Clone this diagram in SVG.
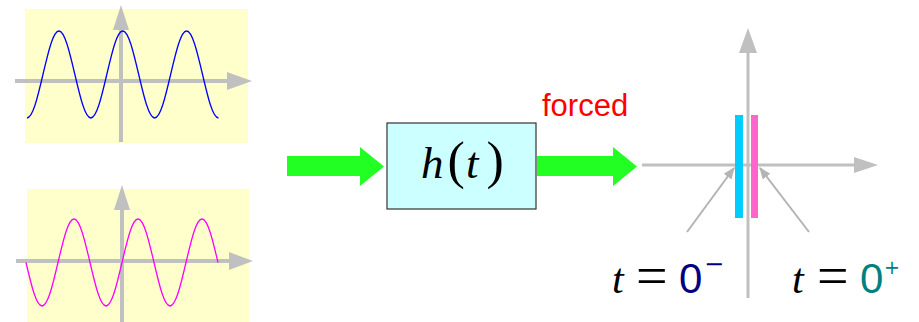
<svg xmlns="http://www.w3.org/2000/svg" width="919" height="322" viewBox="0 0 919 322">
<defs>
<style>
.panel{fill:#ffffcc}
.axis{stroke:#c0c0c0;stroke-width:4;fill:none}
.axis3{stroke:#c0c0c0;stroke-width:3;fill:none}
.head{fill:#c0c0c0}
.wave{fill:none;stroke-width:1.3}
.green{fill:#22ff22}
.math{font-family:"Liberation Serif","DejaVu Serif",serif;font-style:italic}
.up{font-family:"Liberation Serif","DejaVu Serif",serif;font-style:normal}
.num{font-family:"Liberation Sans","DejaVu Sans",sans-serif;font-style:normal}
.sup{font-family:"DejaVu Sans","Liberation Sans",sans-serif}
.ptr{stroke:#b4b4b4;stroke-width:2;fill:none}
</style>
<marker id="ah" viewBox="0 0 10 10" refX="9" refY="5" markerWidth="6" markerHeight="6" orient="auto" markerUnits="strokeWidth">
<path d="M0,1 L10,5 L0,9 Z" fill="#b4b4b4"/>
</marker>
</defs>
<rect width="919" height="322" fill="#ffffff"/>

<g id="input-cos">
<rect class="panel" x="25" y="9" width="223" height="134"/>
<line class="axis" x1="121" y1="28" x2="121" y2="142"/>
<polygon class="head" points="113,30 121,5 129,30"/>
<line class="axis" x1="15" y1="81" x2="229" y2="81"/>
<polygon class="head" points="227,72 252,81 227,90"/>
<path class="wave" stroke="#0000ff" d="M27,118 C32.74,118 37.62,97.34 42.96,74.5 C48.30,51.66 53.18,31 58.92,31 C64.66,31 69.54,51.66 74.88,74.5 C80.22,97.34 85.10,118 90.83,118 C96.57,118 101.45,97.34 106.79,74.5 C112.13,51.66 117.01,31 122.75,31 C128.49,31 133.37,51.66 138.71,74.5 C144.05,97.34 148.93,118 154.66,118 C160.40,118 165.28,97.34 170.62,74.5 C175.96,51.66 180.84,31 186.58,31 C192.32,31 197.20,51.66 202.54,74.5 C207.88,97.34 212.76,118 218.5,118"/>
</g>

<g id="input-sin">
<rect class="panel" x="27" y="189" width="222" height="133"/>
<line class="axis" x1="122" y1="208" x2="122" y2="322"/>
<polygon class="head" points="114,210 122,185 130,210"/>
<line class="axis" x1="16" y1="261" x2="231" y2="261"/>
<polygon class="head" points="229,252 253,261 229,270"/>
<path class="wave" stroke="#ff00ff" d="M26,262.5 C31.35,285.34 36.24,306 42,306 C47.76,306 52.65,285.34 58,262.5 C63.35,239.66 68.24,219 74,219 C79.76,219 84.65,239.66 90,262.5 C95.35,285.34 100.24,306 106,306 C111.76,306 116.65,285.34 122,262.5 C127.35,239.66 132.24,219 138,219 C143.76,219 148.65,239.66 154,262.5 C159.35,285.34 164.24,306 170,306 C175.76,306 180.65,285.34 186,262.5 C191.35,239.66 196.24,219 202,219 C207.76,219 212.65,239.66 218,262.5"/>
</g>

<g id="system">
<rect x="387" y="123" width="149" height="86" fill="#ccffff" stroke="#333333" stroke-width="1.2"/>
<text y="178" font-size="45"><tspan class="math" x="421">h</tspan><tspan class="up" x="447.5" font-size="52">(</tspan><tspan class="math" x="466">t</tspan><tspan class="up" x="486.5" font-size="52">)</tspan></text>
</g>

<g id="connectors">
<path class="green" d="M287,156 H360 V147 L384,166.5 L360,186 V176 H287 Z"/>
<path class="green" d="M537,156 H613 V147 L637,166.5 L613,186 V176 H537 Z"/>
<text x="542" y="116" font-family="Liberation Sans, Arial, sans-serif" font-size="31" fill="#ff0000">forced</text>
</g>

<g id="output">
<line class="axis3" x1="642" y1="165" x2="856" y2="165"/>
<polygon class="head" points="854,157 878,165 854,173"/>
<line class="axis3" x1="748" y1="51" x2="748" y2="298"/>
<polygon class="head" points="739,53 748,28 757,53"/>
<rect x="735" y="115" width="8" height="103" fill="#00ccff"/>
<rect x="751" y="115" width="7" height="103" fill="#ff66cc"/>
<line class="ptr" x1="687" y1="232" x2="734" y2="168" marker-end="url(#ah)"/>
<line class="ptr" x1="809" y1="232" x2="760" y2="168" marker-end="url(#ah)"/>
<text class="math" x="612" y="293" font-size="42" fill="#000000">t</text>
<text class="up" x="636" y="295" font-size="56" fill="#000000">=</text>
<text class="num" x="679" y="293" font-size="42" fill="#000080">0</text>
<text class="sup" x="704" y="272" font-size="24" fill="#000080">−</text>
<text class="math" x="792" y="293" font-size="42" fill="#000000">t</text>
<text class="up" x="817" y="295" font-size="56" fill="#000000">=</text>
<text class="num" x="860" y="293" font-size="42" fill="#008080">0</text>
<text class="sup" x="884" y="274" font-size="19" fill="#008080">+</text>
</g>
</svg>
